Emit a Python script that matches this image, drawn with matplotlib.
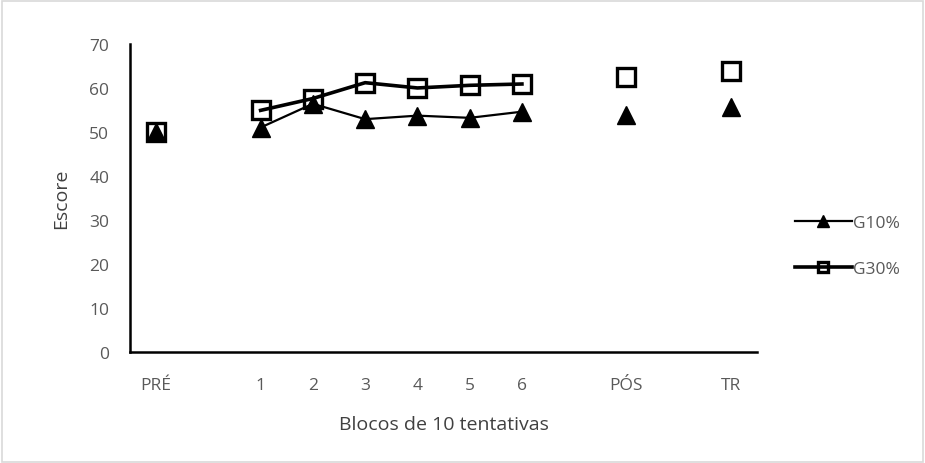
import numpy as np
import matplotlib
matplotlib.use("Agg")
import matplotlib.pyplot as plt
from matplotlib.patches import Rectangle

categories = ["PRÉ", "", "1", "2", "3", "4", "5", "6", "", "PÓS", "", "TR"]
g10 = [50, None, 51, 56.4, 52.9, 53.7, 53.2, 54.6, None, 53.8, None, 55.6]
g30 = [50, None, 54.9, 57.6, 61.2, 60.0, 60.6, 60.9, None, 62.4, None, 63.9]
yticks = [0, 10, 20, 30, 40, 50, 60, 70]

plt.rcParams['font.family'] = ['Open Sans', 'DejaVu Sans']

fig = plt.figure(figsize=(9.25, 4.64), dpi=100)
ax = fig.add_axes([0.1405, 0.240, 0.678, 0.663])

x = np.arange(len(categories))
y10 = np.array([np.nan if v is None else v for v in g10], dtype=float)
y30 = np.array([np.nan if v is None else v for v in g30], dtype=float)

ax.plot(x, y10, color='black', lw=1.6, marker='^', markersize=13,
        markerfacecolor='black', markeredgecolor='black', label='G10%', zorder=3)
ax.plot(x, y30, color='black', lw=2.6, marker='s', markersize=12.5,
        markerfacecolor='none', markeredgecolor='black', markeredgewidth=2.4,
        label='G30%', zorder=4)

ax.set_xlim(-0.5, len(categories) - 0.5)
ax.set_ylim(0, 70)
ax.set_yticks(yticks)
ax.set_xticks(x)
ax.set_xticklabels(categories)
ax.tick_params(axis='both', length=0, labelsize=12.5, colors='#595959')
ax.tick_params(axis='x', pad=18)
ax.tick_params(axis='y', pad=15)
for s in ['top', 'right']:
    ax.spines[s].set_visible(False)
for s in ['left', 'bottom']:
    ax.spines[s].set_linewidth(1.8)
    ax.spines[s].set_color('black')

ax.set_xlabel('Blocos de 10 tentativas', fontsize=14, color='#404040', labelpad=16)
ax.set_ylabel('Escore', fontsize=14, color='#404040', labelpad=14)

leg = ax.legend(loc='center left', bbox_to_anchor=(1.035, 0.343), frameon=False,
                fontsize=12.5, handlelength=3.3, handletextpad=0.05, labelspacing=1.75,
                markerscale=0.62)
for t in leg.get_texts():
    t.set_color('#595959')

fig.patches.append(Rectangle((0.002, 0.003), 0.996, 0.993, transform=fig.transFigure,
                             fill=False, edgecolor='#d9d9d9', lw=1.2))

fig.savefig('out.png', dpi=100)
